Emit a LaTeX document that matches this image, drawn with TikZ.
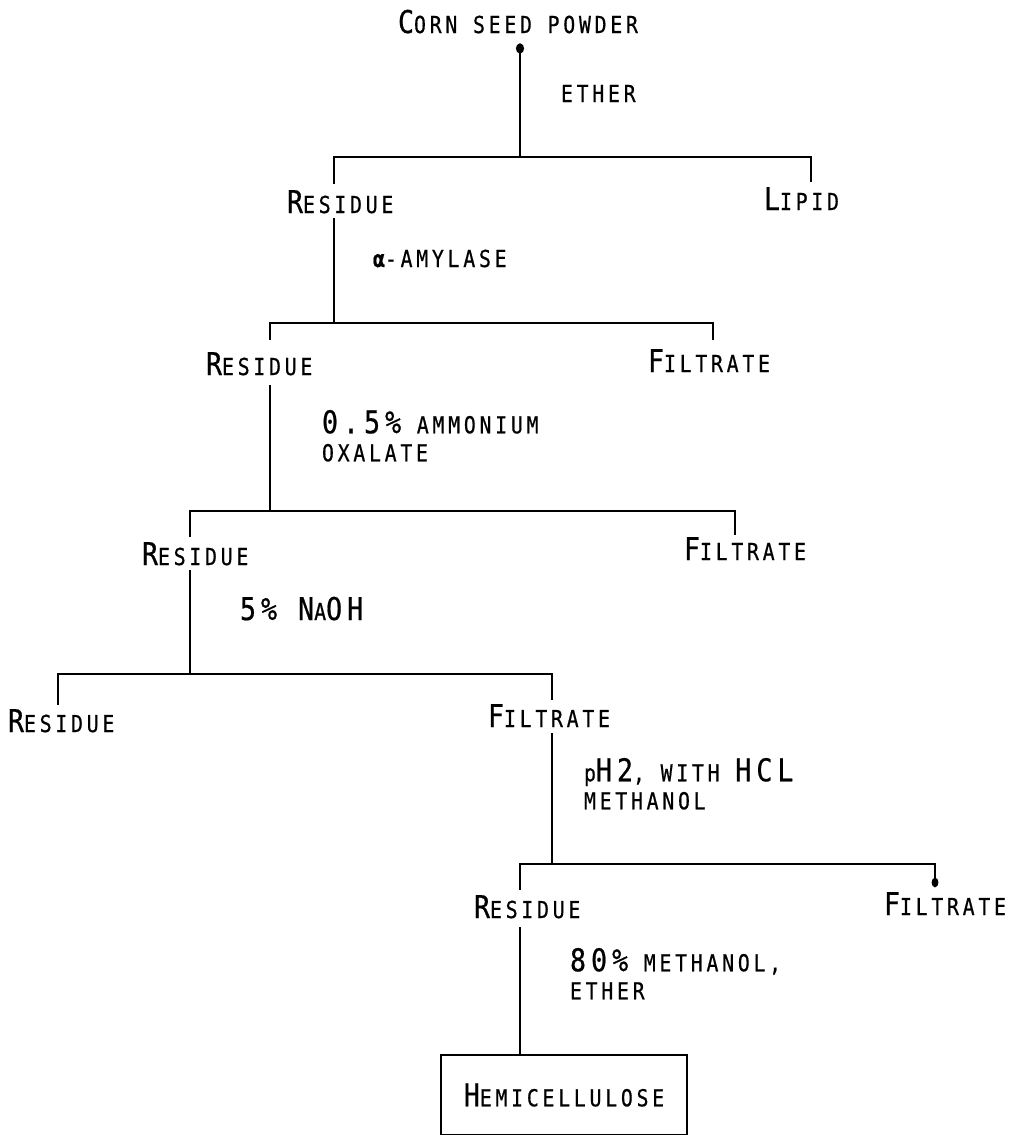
\documentclass[tikz,border=0pt]{standalone}
\usepackage{fontspec}
\newfontfamily\tw{DejaVu Sans Mono}[LetterSpace=16,FakeStretch=0.85,FakeBold=0.6]
\usetikzlibrary{calc,arrows.meta}
\newcommand\Bg[1]{{\fontsize{23.5}{21}\selectfont #1}}
\begin{document}
\begin{tikzpicture}[x=0.75pt,y=-0.75pt,
  lbl/.style={inner sep=0pt, outer sep=0pt, font=\tw\fontsize{17.5}{21}\selectfont, anchor=base west},
  note/.style={lbl, align=left, anchor=north west},
  hbox/.style={draw, line width=1.7pt, inner sep=0pt, outer sep=0pt, minimum width=184.5pt, minimum height=60pt, font=\tw\fontsize{17.5}{21}\selectfont},
  ln/.style={line width=2pt}]
\useasboundingbox (0,0) rectangle (1020,1135);
% labels
\node[lbl] (cs) at (398,33) {\Bg{C}ORN SEED POWDER};
\node[lbl] (eth) at (561,102) {ETHER};
\node[lbl] (res1) at (287,213) {\Bg{R}ESIDUE};
\node[lbl] (lip) at (764,210) {\Bg{L}IPID};
\node[lbl] (amy) at (373,267) {{\bfseries α}-AMYLASE};
\node[lbl] (res2) at (206,375) {\Bg{R}ESIDUE};
\node[lbl] (fil2) at (648,372) {\Bg{F}ILTRATE};
\node[note] (amm) at (322,410) {\Bg{0.5\%} AMMONIUM\\OXALATE};
\node[lbl] (res3) at (142,565) {\Bg{R}ESIDUE};
\node[lbl] (fil3) at (684,560) {\Bg{F}ILTRATE};
\node[lbl] (naoh) at (240,620) {\Bg{5\% N}A\Bg{OH}};
\node[lbl] (res4) at (8,732) {\Bg{R}ESIDUE};
\node[lbl] (fil4) at (488,727) {\Bg{F}ILTRATE};
\node[note] (hcl) at (584,758) {p\Bg{H2}, WITH \Bg{HCL}\\METHANOL};
\node[lbl] (res5) at (474,918) {\Bg{R}ESIDUE};
\node[lbl] (fil5) at (884,915) {\Bg{F}ILTRATE};
\node[note] (meth) at (570,948) {\Bg{80\%} METHANOL,\\ETHER};
\node[hbox] (hemi) at (564,1095) {\Bg{H}EMICELLULOSE};
% junctions
\coordinate (s1) at (520,157); \coordinate (l1) at (334,157); \coordinate (r1) at (811,157);
\coordinate (s2) at (334,323); \coordinate (l2) at (270,323); \coordinate (r2) at (713,323);
\coordinate (s3) at (270,511); \coordinate (l3) at (190,511); \coordinate (r3) at (735,511);
\coordinate (s4) at (190,674); \coordinate (l4) at (58,674);  \coordinate (r4) at (552,674);
\coordinate (s5) at (552,864); \coordinate (l5) at (520,864); \coordinate (r5) at (935,864);
% connectors
\draw[ln,{Circle[length=7.5pt,width=6pt]}-] ($(cs.south -| s1)+(0,10)$) -- (s1);
\draw[ln] ($(res1.north -| l1)+(0,-6)$) -- (l1) -- (r1) -- ($(lip.north -| r1)+(0,-5)$);
\draw[ln] ($(res1.south -| s2)+(0,5)$) -- (s2);
\draw[ln] ($(res2.north -| l2)+(0,-12)$) -- (l2) -- (r2) -- ($(fil2.north -| r2)+(0,-9)$);
\draw[ln] ($(res2.south -| s3)+(0,10)$) -- (s3);
\draw[ln] ($(res3.north -| l3)+(0,-5)$) -- (l3) -- (r3) -- ($(fil3.north -| r3)+(0,-2)$);
\draw[ln] ($(res3.south -| s4)+(0,5)$) -- (s4);
\draw[ln] ($(res4.north -| l4)+(0,-4)$) -- (l4) -- (r4) -- ($(fil4.north -| r4)+(0,-4)$);
\draw[ln] ($(fil4.south -| s5)+(0,6)$) -- (s5);
\draw[ln,-{Circle[length=7pt,width=5pt]}] ($(res5.north -| l5)+(0,-5)$) -- (l5) -- (r5) -- ($(fil5.north -| r5)+(0,-5)$);
\draw[ln] ($(res5.south -| l5)+(0,9)$) -- (hemi.north -| l5);
\end{tikzpicture}
\end{document}
